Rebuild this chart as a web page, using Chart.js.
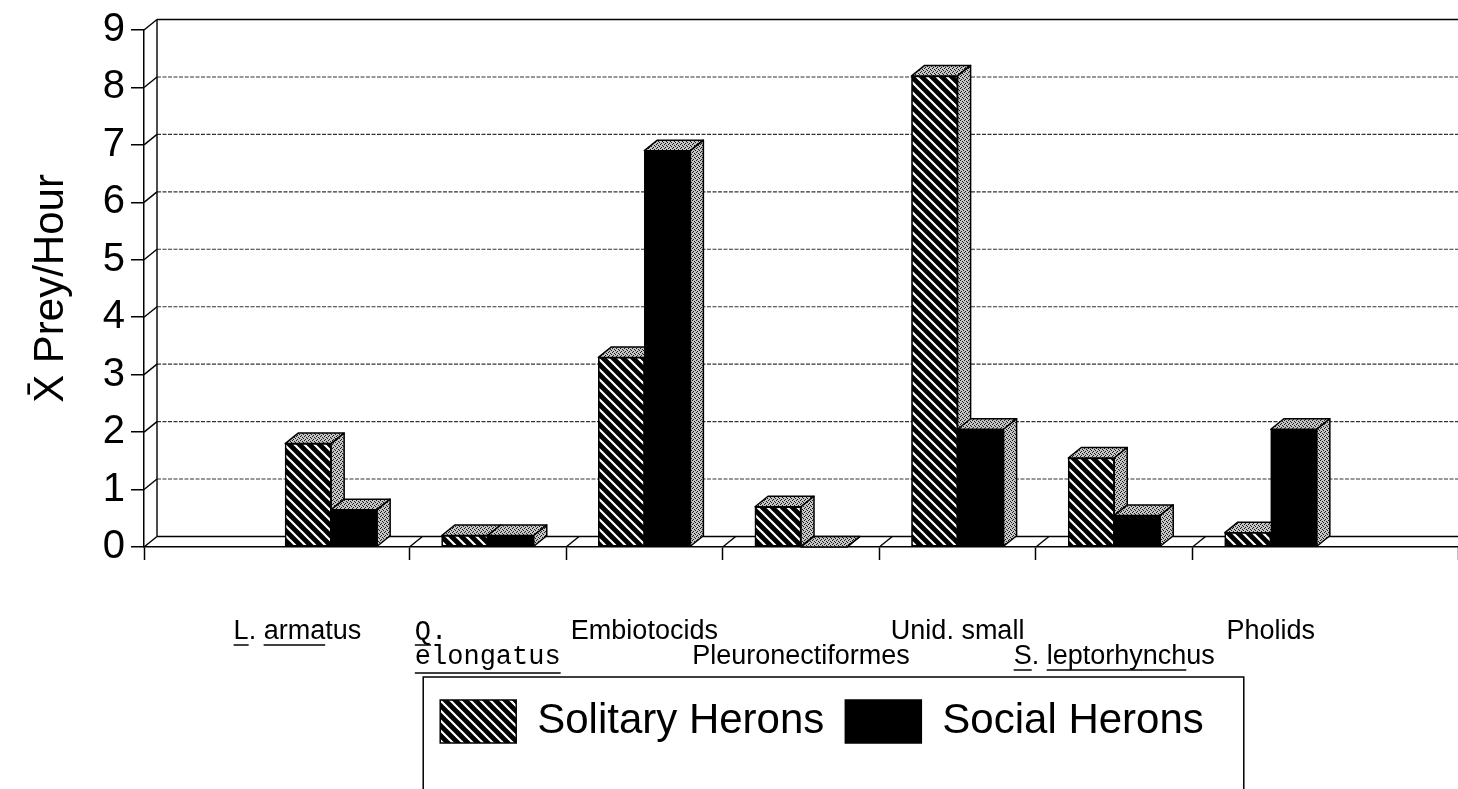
<!DOCTYPE html>
<html>
<head>
<meta charset="utf-8">
<script src="https://cdn.jsdelivr.net/npm/chart.js@4.4.0/dist/chart.umd.min.js"></script>
<style>
html,body{margin:0;padding:0;background:#fff;overflow:hidden}
#wrap{position:relative;width:1458px;height:789px}
</style>
</head>
<body>
<div id="wrap"><canvas id="c" width="1458" height="789"></canvas></div>
<script>
// ---- data ----
const categories = ['L. armatus', 'Q. elongatus', 'Embiotocids', 'Pleuronectiformes', 'Unid. small', 'S. leptorhynchus', 'Pholids'];
const tickLabels = [['L. armatus         '], ['Q.       ', 'elongatus'], ['Embiotocids'], ['', 'Pleuronectiformes'], ['Unid. small'], ['', 'S. leptorhynchus'], ['Pholids']];
const solitary = [1.8, 0.2, 3.3, 0.7, 8.2, 1.55, 0.25];
const social = [0.65, 0.2, 6.9, 0, 2.05, 0.55, 2.05];
const yTicks = [0, 1, 2, 3, 4, 5, 6, 7, 8, 9];
const seriesNames = ['Solitary Herons', 'Social Herons'];
const yTitle = 'X\u0304 Prey/Hour';
// underlined parts of tick labels: [category, line, fromChar, toChar]
const underlines = [[0, 0, 0, 1], [0, 0, 3, 7], [1, 0, 0, 1], [1, 1, 0, 9], [5, 1, 0, 1], [5, 1, 3, 14]];

// ---- style ----
const SANS = 'Liberation Sans, Arial, sans-serif';
const MONO = 'Liberation Mono, Courier New, monospace';
const DX = 13, DY = -10.5;
const X_MIN = -1.195, X_MAX = 7.195;
const TICK_LEN = 13, LABEL_PAD = 59.5, LINE_H = 25, LABEL_SIZE = 27;
const LEGEND_SHIFT = 21;

Chart.defaults.font.family = SANS;
Chart.defaults.color = '#000';

function makeHatch() {
  const s = 10, c = document.createElement('canvas');
  c.width = c.height = s;
  const g = c.getContext('2d');
  g.fillStyle = '#000'; g.fillRect(0, 0, s, s);
  g.strokeStyle = '#fff'; g.lineWidth = 2.2;
  g.beginPath();
  for (let k = -1; k <= 1; k++) { g.moveTo(-2, -2 + k * s); g.lineTo(s + 2, s + 2 + k * s); }
  g.stroke();
  return g.createPattern(c, 'repeat');
}
function makeStipple() {
  const c = document.createElement('canvas');
  c.width = c.height = 4;
  const g = c.getContext('2d');
  g.fillStyle = '#c4c4c4'; g.fillRect(0, 0, 4, 4);
  g.fillStyle = '#1a1a1a';
  [[0, 0], [2, 1], [1, 3], [3, 2]].forEach(p => g.fillRect(p[0], p[1], 1, 1));
  return g.createPattern(c, 'repeat');
}
const ctx0 = document.getElementById('c').getContext('2d');
const hatch = makeHatch();
const stipple = makeStipple();

const boundaryTicks = [X_MIN];
categories.forEach((c, i) => { boundaryTicks.push(i); if (i < categories.length - 1) boundaryTicks.push(i + 0.5); });
boundaryTicks.push(X_MAX);

const wallsPlugin = {
  id: 'walls',
  afterLayout(chart) {
    const lg = chart.legend;
    if (lg) { lg.left += LEGEND_SHIFT; lg.right += LEGEND_SHIFT; }
  },
  beforeDatasetsDraw(chart) {
    const {ctx, chartArea: a, scales: {x, y}} = chart;
    ctx.save();
    ctx.strokeStyle = '#000';
    ctx.lineWidth = 1.4;
    yTicks.forEach(v => {
      const yp = y.getPixelForValue(v);
      ctx.setLineDash([]);
      ctx.beginPath(); ctx.moveTo(a.left, yp); ctx.lineTo(a.left + DX, yp + DY); ctx.stroke();
      ctx.save();
      if (v !== 0 && v !== yTicks[yTicks.length - 1]) { ctx.setLineDash([4, 1.5]); ctx.strokeStyle = '#333'; ctx.lineWidth = 1.1; }
      ctx.beginPath(); ctx.moveTo(a.left + DX, yp + DY); ctx.lineTo(a.right + 2, yp + DY); ctx.stroke();
      ctx.restore();
    });
    ctx.setLineDash([]);
    ctx.beginPath();
    ctx.moveTo(a.left + DX, y.getPixelForValue(yTicks[yTicks.length - 1]) + DY);
    ctx.lineTo(a.left + DX, y.getPixelForValue(0) + DY);
    ctx.stroke();
    const y0 = y.getPixelForValue(0);
    boundaryTicks.forEach(v => {
      if (Number.isInteger(v) || v === X_MIN || v === X_MAX) return;
      const xp = x.getPixelForValue(v);
      ctx.beginPath(); ctx.moveTo(xp, y0); ctx.lineTo(xp + DX, y0 + DY); ctx.stroke();
    });
    ctx.restore();
  },
  afterDatasetsDraw(chart) {
    const ctx = chart.ctx;
    const metas = [chart.getDatasetMeta(0), chart.getDatasetMeta(1)];
    ctx.save();
    for (let i = 0; i < categories.length; i++) {
      metas.forEach(m => {
        const bar = m.data[i];
        const p = bar.getProps(['x', 'y', 'base', 'width'], true);
        const x0 = p.x - p.width / 2, x1 = p.x + p.width / 2;
        ctx.fillStyle = stipple; ctx.strokeStyle = '#000'; ctx.lineWidth = 1.5; ctx.lineJoin = 'round';
        ctx.beginPath();
        ctx.moveTo(x0, p.y); ctx.lineTo(x0 + DX, p.y + DY); ctx.lineTo(x1 + DX, p.y + DY); ctx.lineTo(x1, p.y); ctx.closePath();
        ctx.fill(); ctx.stroke();
        ctx.beginPath();
        ctx.moveTo(x1, p.y); ctx.lineTo(x1 + DX, p.y + DY); ctx.lineTo(x1 + DX, p.base + DY); ctx.lineTo(x1, p.base); ctx.closePath();
        ctx.fill(); ctx.stroke();
        bar.draw(ctx);
      });
    }
    ctx.restore();
  },
  afterDraw(chart) {
    const {ctx, scales: {x}} = chart;
    ctx.save();
    ctx.strokeStyle = '#000'; ctx.lineWidth = 1.5;
    underlines.forEach(u => {
      const [ci, li, from, to] = u;
      const mono = ci === 1;
      ctx.font = LABEL_SIZE + 'px ' + (mono ? MONO : SANS);
      const text = tickLabels[ci][li];
      const w = ctx.measureText(text).width;
      const left = x.getPixelForValue(ci) - w / 2;
      const a = left + ctx.measureText(text.slice(0, from)).width;
      const b = left + ctx.measureText(text.slice(0, to)).width;
      const cy = x.top + TICK_LEN + LABEL_PAD + LINE_H / 2 + li * LINE_H;
      const uy = cy + (mono && li === 1 ? 16 : 13);
      ctx.beginPath(); ctx.moveTo(a, uy); ctx.lineTo(b, uy); ctx.stroke();
    });
    const lg = chart.legend;
    if (lg && lg.legendHitBoxes && lg.legendHitBoxes.length) {
      const hb = lg.legendHitBoxes;
      const l = hb[0].left - 17;
      const r = hb[hb.length - 1].left + hb[hb.length - 1].width + 40;
      const t = lg.top - 2;
      ctx.beginPath(); ctx.moveTo(l, 800); ctx.lineTo(l, t); ctx.lineTo(r, t); ctx.lineTo(r, 800); ctx.stroke();
    }
    ctx.restore();
  }
};

new Chart(ctx0, {
  type: 'bar',
  data: {
    datasets: [
      { label: seriesNames[0], data: solitary.map((v, i) => ({x: i, y: v})), backgroundColor: hatch, borderColor: '#000', borderWidth: 1.5, borderSkipped: false, barThickness: 46 },
      { label: seriesNames[1], data: social.map((v, i) => ({x: i, y: v})), backgroundColor: '#000', borderColor: '#000', borderWidth: 1.5, borderSkipped: false, barThickness: 46 }
    ]
  },
  options: {
    responsive: false,
    animation: false,
    events: [],
    layout: { padding: { left: 0, right: 0, top: 23, bottom: 36 } },
    plugins: {
      tooltip: { enabled: false },
      legend: {
        position: 'bottom',
        fullSize: false,
        labels: { boxWidth: 76, boxHeight: 43, padding: 21, color: '#000', font: { family: SANS, size: 42 } }
      }
    },
    scales: {
      x: {
        type: 'linear',
        offset: false,
        min: X_MIN, max: X_MAX,
        afterBuildTicks: s => { s.ticks = boundaryTicks.map(v => ({ value: v })); },
        afterFit: s => { s.height = 132; s.paddingLeft = 0; s.paddingRight = 0; },
        grid: {
          display: true, offset: false, drawOnChartArea: false, drawTicks: true, tickLength: TICK_LEN, tickWidth: 1.5,
          tickColor: c => (c.tick && Number.isInteger(c.tick.value)) ? 'rgba(0,0,0,0)' : '#000'
        },
        border: { display: true, color: '#000', width: 1.5 },
        ticks: {
          autoSkip: false, maxRotation: 0, minRotation: 0, padding: LABEL_PAD, color: '#000',
          font: c => ({ family: (c.tick && c.tick.value === 1) ? MONO : SANS, size: LABEL_SIZE, lineHeight: LINE_H + 'px' }),
          callback: v => (Number.isInteger(v) && v >= 0 && v < tickLabels.length) ? tickLabels[v] : ''
        }
      },
      y: {
        min: 0, max: 9,
        afterBuildTicks: s => { s.ticks = yTicks.map(v => ({ value: v })); },
        afterFit: s => { s.width = 144; },
        grid: { drawOnChartArea: false, drawTicks: true, tickLength: TICK_LEN, color: '#000', lineWidth: 1.5 },
        border: { display: true, color: '#000', width: 1.5 },
        ticks: { color: '#000', padding: 6, font: { family: SANS, size: 40 } },
        title: { display: true, text: yTitle, color: '#000', font: { family: SANS, size: 42 }, padding: { top: 26, bottom: 0 } }
      }
    }
  },
  plugins: [wallsPlugin]
});
</script>
</body>
</html>
